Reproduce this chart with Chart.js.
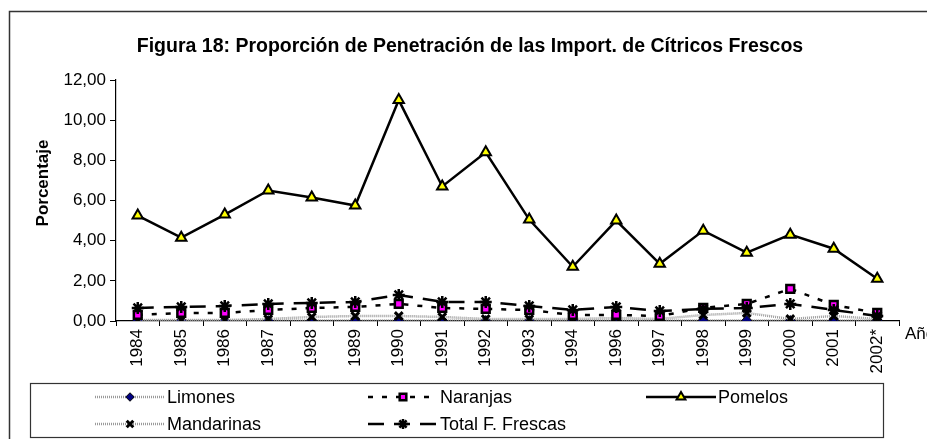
<!DOCTYPE html>
<html>
<head>
<meta charset="utf-8">
<script src="https://cdn.jsdelivr.net/npm/chart.js@4.4.0/dist/chart.umd.min.js"></script>
<style>
html,body{margin:0;padding:0;background:#fff;}
canvas{display:block;}
</style>
</head>
<body>
<canvas id="c" width="927" height="439"></canvas>
<script>
const categories = ['1984','1985','1986','1987','1988','1989','1990','1991','1992','1993','1994','1996','1997','1998','1999','2000','2001','2002*'];
const limones    = [0.02,0.02,0.02,0.02,0.02,0.03,0.03,0.03,0.02,0.02,0.02,0.02,0.02,0.03,0.03,0.02,0.03,0.02];
const naranjas   = [0.30,0.40,0.40,0.55,0.65,0.70,0.85,0.65,0.60,0.55,0.30,0.30,0.25,0.65,0.85,1.60,0.80,0.40];
const pomelos    = [5.25,4.15,5.30,6.50,6.15,5.75,11.00,6.70,8.40,5.05,2.70,5.00,2.85,4.50,3.40,4.30,3.60,2.10];
const mandarinas = [0.05,0.05,0.05,0.10,0.20,0.25,0.25,0.20,0.10,0.10,0.10,0.15,0.10,0.30,0.40,0.10,0.25,0.10];
const totalFF    = [0.65,0.70,0.75,0.85,0.90,0.95,1.30,0.95,0.95,0.75,0.55,0.70,0.50,0.60,0.65,0.85,0.55,0.25];
const yTicks     = [0,2,4,6,8,10,12];

const FONT = '"Liberation Sans", Arial, sans-serif';

const datasets = [
  {label:'Limones', data:limones, borderColor:'#9a9a9a', borderWidth:2.5, borderDash:[1,1],
   pointStyle:'rectRot', pointRadius:5, pointBackgroundColor:'#000080', pointBorderColor:'#000', pointBorderWidth:1, order:5},
  {label:'Naranjas', data:naranjas, borderColor:'#000', borderWidth:2.5, borderDash:[5,9],
   pointStyle:'rect', pointRadius:5.5, pointBackgroundColor:'#ff00ff', pointBorderColor:'#000', pointBorderWidth:2.5, order:3},
  {label:'Pomelos', data:pomelos, borderColor:'#000', borderWidth:2.5,
   pointStyle:'triangle', pointRadius:6, pointBackgroundColor:'#ffff00', pointBorderColor:'#000', pointBorderWidth:2, order:1},
  {label:'Mandarinas', data:mandarinas, borderColor:'#9a9a9a', borderWidth:2.5, borderDash:[1,1],
   pointStyle:'crossRot', pointRadius:5.5, pointBackgroundColor:'#000', pointBorderColor:'#000', pointBorderWidth:3, order:4},
  {label:'Total F. Frescas', data:totalFF, borderColor:'#000', borderWidth:2.5, borderDash:[16,10],
   pointStyle:'star', pointRadius:6, pointBackgroundColor:'#000', pointBorderColor:'#000', pointBorderWidth:2.5, order:2}
];
datasets.forEach(d => { d.fill = false; d.tension = 0; d.backgroundColor = d.pointBackgroundColor; });

const decor = {
  id:'decor',
  beforeDraw(chart){
    const ctx = chart.ctx;
    ctx.save();
    ctx.fillStyle = '#fff';
    ctx.fillRect(0,0,chart.width,chart.height);
    ctx.strokeStyle = '#333';
    ctx.lineWidth = 1.5;
    ctx.strokeRect(9.5,11.5,chart.width+20,chart.height+20);
    ctx.restore();
  },
  afterDraw(chart){
    const ctx = chart.ctx;
    ctx.save();
    ctx.fillStyle = '#000';
    ctx.font = 'bold 19.5px ' + FONT;
    ctx.textAlign = 'center';
    ctx.textBaseline = 'middle';
    ctx.fillText('Figura 18: Proporción de Penetración de las Import. de Cítricos Frescos', 470, 47);
    // y title
    ctx.save();
    ctx.translate(43, 183);
    ctx.rotate(-Math.PI/2);
    ctx.font = 'bold 17px ' + FONT;
    ctx.fillText('Porcentaje', 0, 0);
    ctx.restore();
    // Año
    ctx.font = '17px ' + FONT;
    ctx.textAlign = 'left';
    ctx.fillText('Año', 905, 334);
    // legend box
    ctx.strokeStyle = '#333';
    ctx.lineWidth = 1.2;
    ctx.strokeRect(30.5, 383.5, 853, 54);
    const pos = [
      {i:0, x:95,  y:397},
      {i:1, x:368, y:397},
      {i:2, x:646, y:397},
      {i:3, x:95,  y:424},
      {i:4, x:368, y:424}
    ];
    pos.forEach(p => {
      const d = datasets[p.i];
      ctx.save();
      ctx.strokeStyle = d.borderColor;
      ctx.lineWidth = d.borderWidth;
      ctx.setLineDash(d.borderDash || []);
      ctx.beginPath();
      ctx.moveTo(p.x, p.y);
      ctx.lineTo(p.x + 70, p.y);
      ctx.stroke();
      ctx.setLineDash([]);
      ctx.fillStyle = d.pointBackgroundColor;
      ctx.strokeStyle = d.pointBorderColor;
      ctx.lineWidth = d.pointBorderWidth;
      Chart.helpers.drawPoint(ctx, {pointStyle:d.pointStyle, radius:d.pointRadius*0.85, rotation:0, borderWidth:d.pointBorderWidth}, p.x + 35, p.y);
      ctx.restore();
      ctx.fillStyle = '#000';
      ctx.font = '18px ' + FONT;
      ctx.textAlign = 'left';
      ctx.textBaseline = 'middle';
      ctx.fillText(d.label, p.x + 72, p.y + 1);
    });
    ctx.restore();
  }
};

new Chart(document.getElementById('c'), {
  type:'line',
  data:{labels:categories, datasets},
  plugins:[decor],
  options:{
    responsive:false,
    animation:false,
    devicePixelRatio:1,
    layout:{padding:{left:30, right:28, top:80, bottom:58}},
    plugins:{legend:{display:false}, title:{display:false}, tooltip:{enabled:false}},
    scales:{
      x:{
        offset:true,
        grid:{display:true, offset:true, drawOnChartArea:false, tickLength:5, color:'#000', lineWidth:1},
        border:{display:true, color:'#000', width:1.2},
        ticks:{minRotation:90, maxRotation:90, color:'#000', font:{family:FONT, size:17}, padding:3, autoSkip:false},
        afterFit(s){ s.height = 60; }
      },
      y:{
        min:0, max:12,
        afterBuildTicks(s){ s.ticks = yTicks.map(v => ({value:v})); },
        grid:{display:true, drawOnChartArea:false, tickLength:6, color:'#000', lineWidth:1},
        border:{display:true, color:'#000', width:1.2},
        ticks:{color:'#000', font:{family:FONT, size:17}, padding:4,
          callback:(v)=> Number(v).toFixed(2).replace('.', ',')},
        afterFit(s){ s.width = 86; }
      }
    }
  }
});
</script>
</body>
</html>
